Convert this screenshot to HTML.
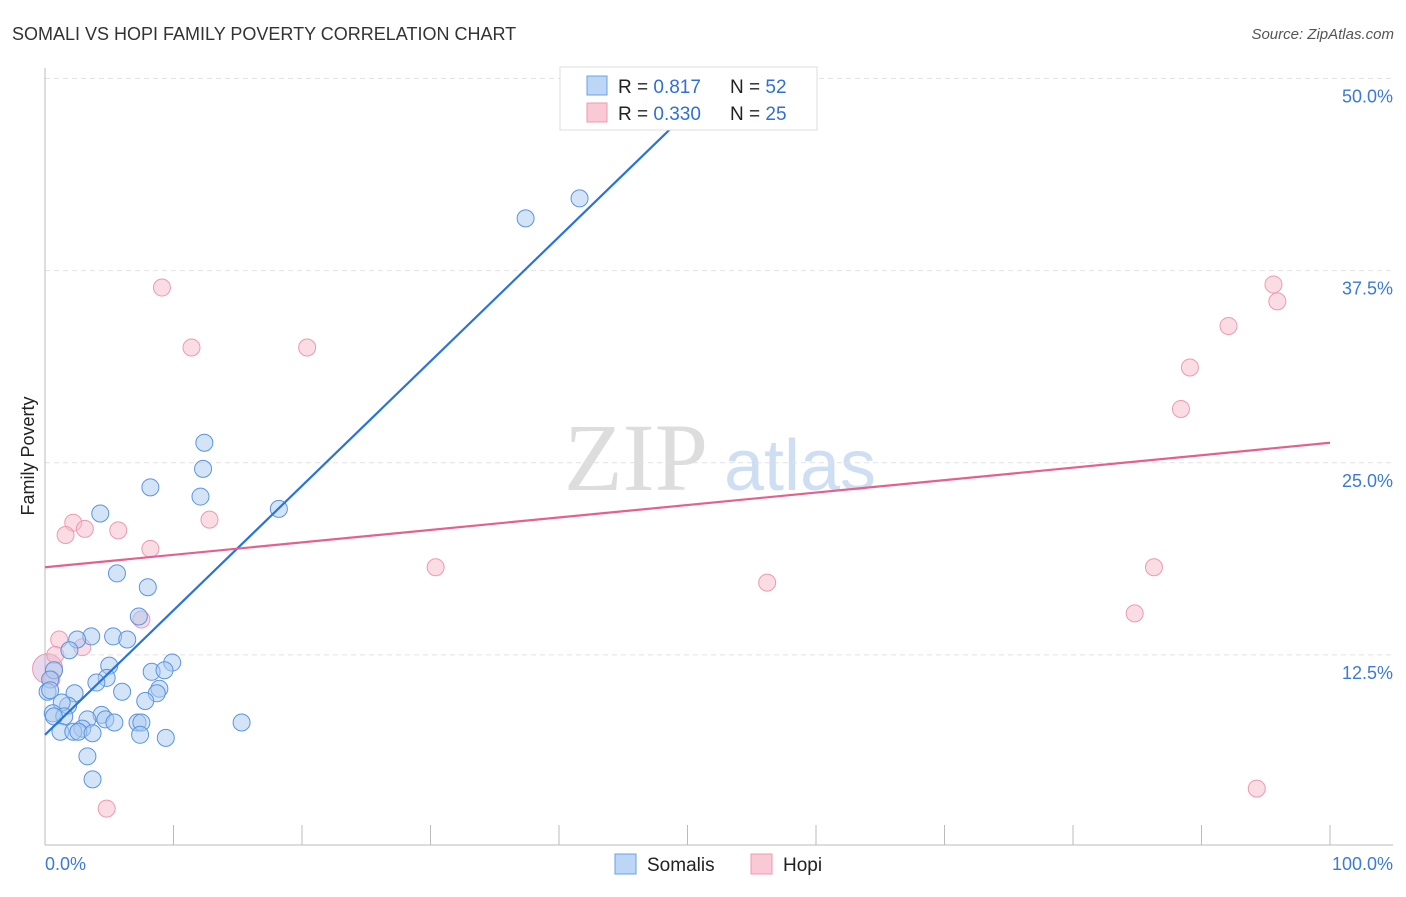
<!DOCTYPE html>
<html><head><meta charset="utf-8">
<style>
body{margin:0;background:#fff;font-family:"Liberation Sans",sans-serif;}
svg text{font-family:"Liberation Sans",sans-serif;}
</style></head>
<body>
<svg id="chart" width="1406" height="892" viewBox="0 0 1406 892">
<text x="12" y="40" font-size="18" fill="#333">SOMALI VS HOPI FAMILY POVERTY CORRELATION CHART</text>
<text x="1394" y="39" font-size="15" fill="#555" text-anchor="end" font-style="italic">Source: ZipAtlas.com</text>
<text x="0" y="0" transform="translate(34,456) rotate(-90)" font-size="18" fill="#222" text-anchor="middle">Family Poverty</text>
<g>
<text x="636" y="490" font-size="96" fill="#ddd" text-anchor="middle" font-family="Liberation Serif" style="font-family:'Liberation Serif',serif">ZIP</text>
<text x="800" y="490" font-size="72" fill="#cfdff3" text-anchor="middle">atlas</text>
</g>
<g id="grid"></g>
<g id="axes"></g>
<g id="pts"></g>
<g id="lines"></g>
<g>
<rect x="560" y="67" width="257" height="63" fill="#fff" stroke="#ddd"/>
<rect x="587" y="76" width="20" height="19" fill="#bcd6f5" stroke="#6aa1e6"/>
<rect x="587" y="103" width="20" height="19" fill="#f9c9d6" stroke="#ec9ab2"/>
<text x="618" y="93" font-size="19" fill="#222">R = <tspan fill="#2f6fd6"> 0.817</tspan></text>
<text x="730" y="93" font-size="19" fill="#222">N = <tspan fill="#2f6fd6">52</tspan></text>
<text x="618" y="120" font-size="19" fill="#222">R = <tspan fill="#2f6fd6">0.330</tspan></text>
<text x="730" y="120" font-size="19" fill="#222">N = <tspan fill="#2f6fd6">25</tspan></text>
</g>
<g>
<rect x="615" y="854" width="21" height="20" fill="#bcd6f5" stroke="#6aa1e6"/>
<text x="647" y="871" font-size="19" fill="#222">Somalis</text>
<rect x="751" y="854" width="21" height="20" fill="#f9c9d6" stroke="#ec9ab2"/>
<text x="783" y="871" font-size="19" fill="#222">Hopi</text>
</g>
</svg>
<script>
const blueX=[41.6,37.4,12.4,12.3,8.2,12.1,4.3,18.2,5.6,8.0,7.3,5.3,3.6,2.5,6.4,1.9,9.9,5.0,8.3,9.3,0.7,4.8,4.0,0.4,8.9,8.7,6.0,2.3,0.2,7.8,1.8,1.3,0.6,1.5,4.4,3.3,4.7,5.4,7.2,7.5,15.3,2.9,1.2,2.2,2.6,3.7,7.4,9.4,3.3,3.7,0.7,0.4];
const blueY=[42.2,40.9,26.3,24.6,23.4,22.8,21.7,22.0,17.8,16.9,15.0,13.7,13.7,13.5,13.5,12.8,12.0,11.8,11.4,11.5,11.5,11.0,10.7,10.9,10.3,10.0,10.1,10.0,10.1,9.5,9.2,9.4,8.7,8.5,8.6,8.3,8.3,8.1,8.1,8.1,8.1,7.7,7.5,7.5,7.5,7.4,7.3,7.1,5.9,4.4,8.5,10.2];
const pinkX=[9.1,11.4,20.4,95.6,95.9,92.1,89.1,88.4,2.2,1.6,3.1,5.7,12.8,8.2,30.4,56.2,86.3,84.8,1.1,2.9,7.5,0.8,0.5,4.8,94.3];
const pinkY=[36.4,32.5,32.5,36.6,35.5,33.9,31.2,28.5,21.1,20.3,20.7,20.6,21.3,19.4,18.2,17.2,18.2,15.2,13.5,13.0,14.8,12.5,10.9,2.5,3.8];
const blueLine=[7.3,0.81]; // intercept, slope
const pinkLine=[18.2,0.081];
const yTicks=[12.5,25.0,37.5,50.0];
const xTickLabels=["0.0%","100.0%"];
const NS="http://www.w3.org/2000/svg";
const X=v=>45+v*12.85, Y=v=>847-v*15.37;
function mk(tag,attrs,parent){const e=document.createElementNS(NS,tag);for(const k in attrs)e.setAttribute(k,attrs[k]);parent.appendChild(e);return e;}
const grid=document.getElementById('grid'),axes=document.getElementById('axes'),pts=document.getElementById('pts'),lines=document.getElementById('lines');
yTicks.forEach(t=>{
 const l=mk('line',{x1:45,x2:1393,y1:Y(t),y2:Y(t),stroke:'#e2e2e2','stroke-dasharray':'5,4'},grid);
 
 
 const tx=mk('text',{x:1393,y:Y(t)+24,'font-size':18,fill:'#3b7ad8','text-anchor':'end'},axes);
 tx.textContent=t.toFixed(1)+'%';
 
 
});
const ax=mk('line',{x1:45,x2:1393,y1:845,y2:845,stroke:'#bbb'},axes);


const ay=mk('line',{x1:45,x2:45,y1:68,y2:845,stroke:'#bbb'},axes);


for(let i=1;i<=10;i++){const tk=mk('line',{x1:X(i*10),x2:X(i*10),y1:825,y2:845,stroke:'#bbb'},axes);
 
 }
[[0,'start',45],[1,'end',1393]].forEach(([i,a,x])=>{const t=mk('text',{x:x,y:870,'font-size':18,fill:'#3b7ad8','text-anchor':a},axes);t.textContent=xTickLabels[i];
 
 });
const big=mk('circle',{cx:X(0.2),cy:Y(11.6),r:15,fill:'#c9a9d8','fill-opacity':0.45,stroke:'#e89ab0'},pts);


pinkX.forEach((v,i)=>{const c=mk('circle',{cx:X(v),cy:Y(pinkY[i]),r:8.5,fill:'#f6b9cb','fill-opacity':0.5,stroke:'#ec9ab2'},pts);
 
 });
blueX.forEach((v,i)=>{const c=mk('circle',{cx:X(v),cy:Y(blueY[i]),r:8.5,fill:'#a9c9f0','fill-opacity':0.5,stroke:'#5b94e0'},pts);
 
 });
const bl=mk('line',{x1:X(0),y1:Y(blueLine[0]),x2:X(50.2),y2:Y(blueLine[0]+blueLine[1]*50.2),stroke:'#2a74d8','stroke-width':2.2},lines);


const pl=mk('line',{x1:X(0),y1:Y(pinkLine[0]),x2:X(100),y2:Y(pinkLine[0]+pinkLine[1]*100),stroke:'#e5608c','stroke-width':2.2},lines);


</script>
</body></html>
